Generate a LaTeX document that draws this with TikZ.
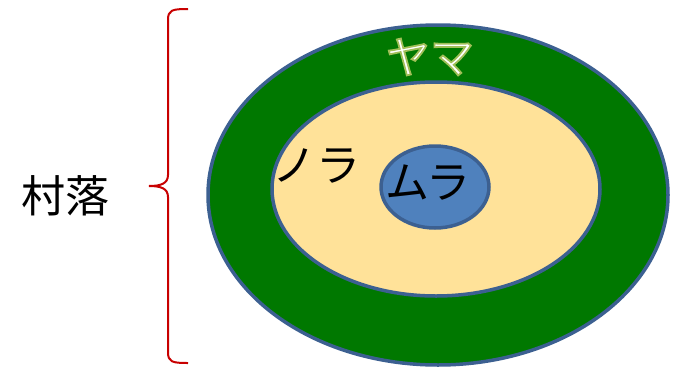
\documentclass[tikz,border=0pt]{standalone}
\usepackage{fontspec}
\newfontfamily\jpfont{Noto Sans CJK JP}
\definecolor{yamagreen}{RGB}{0,120,0}
\definecolor{rim}{RGB}{60,96,145}
\definecolor{nora}{RGB}{255,226,153}
\definecolor{mura}{RGB}{79,129,189}
\definecolor{bracered}{RGB}{200,0,0}
% white letters with a thin olive rim
\newcommand\rimtext[1]{\textcolor{white}{%
  \special{pdf:literal direct 2 Tr 1.8 w 0.63 0.75 0.35 RG}#1%
  \special{pdf:literal direct 0 Tr}}}
\tikzset{
  label/.style={font=\jpfont\fontsize{44}{50}\selectfont, inner sep=0pt},
  ring/.style={draw=rim, line width=3.5pt}
}
\begin{document}
\begin{tikzpicture}[x=1pt,y=-1pt]
  \useasboundingbox (0,0) rectangle (677,370);
  % nested areas
  \draw [ring, fill=yamagreen] (438,195) ellipse (230 and 170);
  \draw [ring, fill=nora] (436,189) ellipse (164 and 107);
  \draw [ring, fill=mura] (435,187) ellipse (54 and 41);
  \node [label] (yama) at (430,57) {\rimtext{ヤマ}};
  \node [label] (nora) at (316,166) {ノラ};
  \node [label] (mura) at (428,183) {ムラ};
  % brace
  \draw [bracered, line width=2pt] (188,9)
        .. controls (172,9) and (168,10) .. (168,20) -- (168,175)
        .. controls (168,184) and (160,186) .. (149,186)
        .. controls (160,186) and (168,188) .. (168,197) -- (168,352)
        .. controls (168,362) and (172,363) .. (188,363);
  \node [label] (sonraku) at (65,196) {村落};
\end{tikzpicture}
\end{document}
